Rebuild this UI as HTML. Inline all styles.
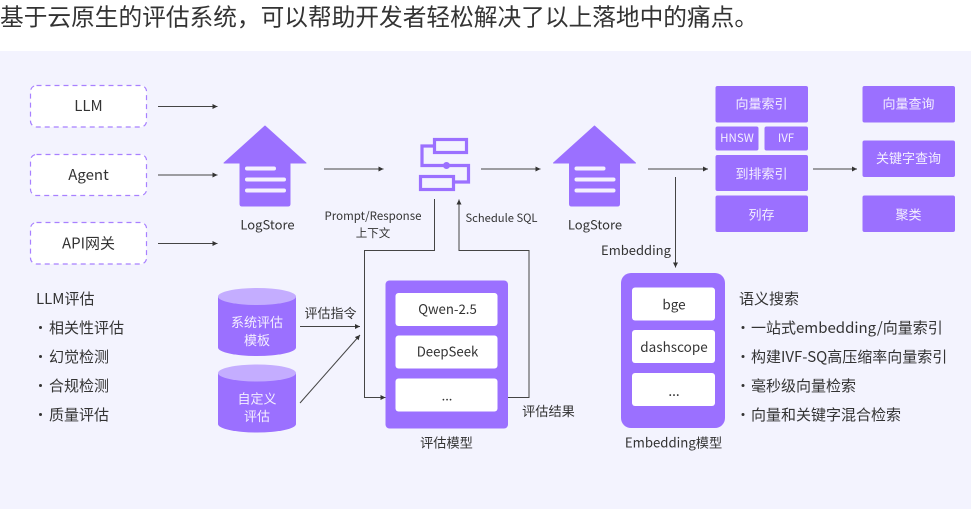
<!DOCTYPE html>
<html><head><meta charset="utf-8"><style>
html,body{margin:0;padding:0;background:#fff;width:971px;height:516px;overflow:hidden}
svg{display:block}
text{font-family:"Noto Sans CJK SC","Liberation Sans",sans-serif;fill:#333;dominant-baseline:central}
.m{text-anchor:middle}
.w{fill:#f4efff;text-anchor:middle}
.l{stroke:#444;stroke-width:1;fill:none}
.p{fill:#9b70ff}
</style></head><body>
<svg width="971" height="516" viewBox="0 0 971 516" xmlns="http://www.w3.org/2000/svg">
<defs>
<marker id="a" markerWidth="6" markerHeight="6" refX="5" refY="2.500" orient="auto" markerUnits="userSpaceOnUse"><path d="M0 0L5 2.500L0 5z" fill="#333"/></marker>
<g id="store">
<path d="M0 -37L41 0L25 0L25 41Q25 43 23 43L-23 43Q-25 43 -25 41L-25 0L-41 0Z" fill="#9b70ff" stroke="#9b70ff" stroke-width="1" stroke-linejoin="round"/>
<rect x="-20" y="3.500" width="31" height="4" rx="2" fill="#f4efff"/>
<rect x="-20" y="14.500" width="41" height="4" rx="2" fill="#f4efff"/>
<rect x="-20" y="25.500" width="41" height="4" rx="2" fill="#f4efff"/>
</g>
</defs>
<text x="0" y="15.500" font-size="23.700" fill="#333">基于云原生的评估系统，可以帮助开发者轻松解决了以上落地中的痛点。</text>
<rect x="0" y="51" width="971" height="458" fill="#f3f3fe"/>

<g fill="#fff" stroke="#a880ff" stroke-width="1.200" stroke-dasharray="5 4">
<rect x="30.500" y="85.500" width="116" height="41.500" rx="6"/>
<rect x="30.500" y="154.500" width="116" height="41" rx="6"/>
<rect x="30.500" y="222.500" width="116" height="41.500" rx="6"/>
</g>
<text class="m" x="88.500" y="105.500" font-size="15">LLM</text>
<text class="m" x="88.500" y="174.500" font-size="15">Agent</text>
<text class="m" x="88.500" y="243" font-size="15">API网关</text>

<path class="l" d="M158 106.500H217.500" marker-end="url(#a)"/>
<path class="l" d="M158 175H217.500" marker-end="url(#a)"/>
<path class="l" d="M158 243.500H217.500" marker-end="url(#a)"/>
<path class="l" d="M324 169H383.500" marker-end="url(#a)"/>
<path class="l" d="M481 169H540.500" marker-end="url(#a)"/>
<path class="l" d="M648 169H708" marker-end="url(#a)"/>
<path class="l" d="M675.500 177V267.500" marker-end="url(#a)"/>
<path class="l" d="M813 169H857" marker-end="url(#a)"/>
<path class="l" d="M434.500 199V250.500H364.500V397.500H385.500" marker-end="url(#a)"/>
<path class="l" d="M508 397.500H529V250.500H459V199.500" marker-end="url(#a)"/>
<path class="l" d="M300 326.500H360" marker-end="url(#a)"/>
<path class="l" d="M300 403L360 335" marker-end="url(#a)"/>

<use href="#store" x="265" y="163"/>
<use href="#store" x="594.500" y="163"/>
<text class="m" x="267.500" y="224" font-size="13">LogStore</text>
<text class="m" x="595" y="224" font-size="13">LogStore</text>

<g fill="none" stroke="#9b70ff" stroke-width="3.200">
<rect x="434.500" y="139.500" width="32" height="13"/>
<rect x="420.500" y="176.500" width="33" height="13"/>
<path d="M434 146H422V165.500H468.500V182H454"/>
</g>
<circle cx="446.500" cy="165.500" r="3.500" fill="#9b70ff"/>

<text class="m" x="373" y="216" font-size="11.500">Prompt/Response</text>
<text class="m" x="373" y="233" font-size="11.500">上下文</text>
<text class="m" x="501.500" y="218" font-size="11.200">Schedule SQL</text>
<text class="m" x="636" y="249.500" font-size="13">Embedding</text>

<g class="p">
<rect x="715.500" y="86" width="92.500" height="36.500" rx="2"/>
<rect x="715.500" y="126.500" width="43" height="24" rx="2"/>
<rect x="764.500" y="126.500" width="43.500" height="24" rx="2"/>
<rect x="715.500" y="155" width="92.500" height="36" rx="2"/>
<rect x="715.500" y="195.500" width="92.500" height="36.500" rx="2"/>
<rect x="862.500" y="86" width="92.500" height="36.500" rx="2"/>
<rect x="862.500" y="140.500" width="92.500" height="36.500" rx="2"/>
<rect x="862.500" y="195.500" width="92.500" height="36.500" rx="2"/>
</g>
<text class="w" x="761.500" y="103" font-size="13">向量索引</text>
<text class="w" x="737" y="138" font-size="11.500">HNSW</text>
<text class="w" x="786" y="138" font-size="11.500">IVF</text>
<text class="w" x="761.500" y="173" font-size="13">到排索引</text>
<text class="w" x="761.500" y="214" font-size="13">列存</text>
<text class="w" x="908.500" y="103" font-size="13">向量查询</text>
<text class="w" x="908.500" y="157.500" font-size="13">关键字查询</text>
<text class="w" x="908.500" y="214" font-size="13">聚类</text>

<path d="M218 296.500V347.500A39 8.500 0 0 0 296 347.500V296.500Z" fill="#9b70ff"/>
<ellipse cx="257" cy="296.500" rx="39" ry="8.500" fill="#c4adff"/>
<path d="M218 373V424A39 8.500 0 0 0 296 424V373Z" fill="#9b70ff"/>
<ellipse cx="257" cy="373" rx="39" ry="8.500" fill="#c4adff"/>
<text class="w" x="257" y="321.500" font-size="13">系统评估</text>
<text class="w" x="257" y="339.500" font-size="13">模板</text>
<text class="w" x="257" y="398" font-size="13">自定义</text>
<text class="w" x="257" y="415.500" font-size="13">评估</text>
<text class="m" x="330.500" y="312.500" font-size="13">评估指令</text>

<rect x="385.500" y="280.500" width="122.500" height="148" rx="4" fill="#9b70ff"/>
<g fill="#fff">
<rect x="395.500" y="293" width="102" height="33" rx="3"/>
<rect x="395.500" y="335.500" width="102" height="33" rx="3"/>
<rect x="395.500" y="378.500" width="102" height="33" rx="3"/>
</g>
<text class="m" x="447.500" y="308.500" font-size="13.200">Qwen-2.5</text>
<text class="m" x="447.500" y="351" font-size="13.200">DeepSeek</text>
<text class="m" x="447" y="395" font-size="13">...</text>
<text class="m" x="446.500" y="442" font-size="13.200">评估模型</text>
<text class="m" x="548.500" y="410.500" font-size="13.200">评估结果</text>

<rect x="621" y="273" width="104" height="155" rx="10" fill="#9b70ff"/>
<g fill="#fff">
<rect x="632" y="287.500" width="83" height="33" rx="3"/>
<rect x="632" y="330" width="83" height="33" rx="3"/>
<rect x="632" y="373" width="83" height="33" rx="3"/>
</g>
<text class="m" x="674" y="303.500" font-size="13.500">bge</text>
<text class="m" x="674" y="346" font-size="13.500">dashscope</text>
<text class="m" x="674" y="390" font-size="13.500">...</text>
<text class="m" x="673.500" y="442" font-size="13.200">Embedding模型</text>

<text x="36" y="298.500" font-size="15">LLM评估</text>
<text x="49" y="327.500" font-size="15">相关性评估</text>
<text x="49" y="356.500" font-size="15">幻觉检测</text>
<text x="49" y="385.500" font-size="15">合规检测</text>
<text x="49" y="414.500" font-size="15">质量评估</text>
<text x="739" y="298.500" font-size="15">语义搜索</text>
<text x="751" y="327.500" font-size="15">一站式embedding/向量索引</text>
<text x="751" y="356.500" font-size="15">构建IVF-SQ高压缩率向量索引</text>
<text x="751" y="385.500" font-size="15">毫秒级向量检索</text>
<text x="751" y="414.500" font-size="15">向量和关键字混合检索</text>
<g fill="#333">
<circle cx="40.500" cy="327.500" r="1.500"/><circle cx="40.500" cy="356.500" r="1.500"/><circle cx="40.500" cy="385.500" r="1.500"/><circle cx="40.500" cy="414.500" r="1.500"/>
<circle cx="743" cy="327.500" r="1.500"/><circle cx="743" cy="356.500" r="1.500"/><circle cx="743" cy="385.500" r="1.500"/><circle cx="743" cy="414.500" r="1.500"/>
</g>
</svg>
</body></html>
